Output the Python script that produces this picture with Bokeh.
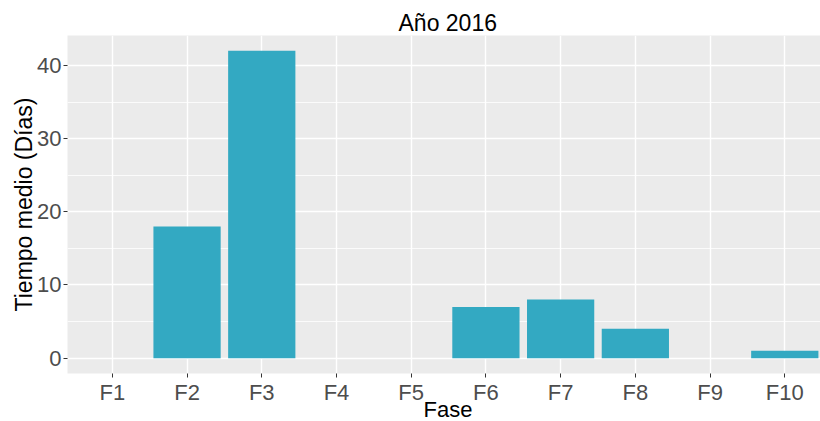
from bokeh.plotting import figure
from bokeh.models import Range1d, FixedTicker, ColumnDataSource, Title
from bokeh.embed import file_html
from bokeh.resources import INLINE

# Data
fases = ["F1", "F2", "F3", "F4", "F5", "F6", "F7", "F8", "F9", "F10"]
tiempo_medio = [0, 18, 42, 0, 0, 7, 8, 4, 0, 1]
y_ticks = [0, 10, 20, 30, 40]
y_minor = [5, 15, 25, 35]

x_pos = list(range(1, len(fases) + 1))
source = ColumnDataSource(data=dict(x=x_pos, fase=fases, tiempo=tiempo_medio))

FONT = "Liberation Sans"

p = figure(width=820, height=421, output_backend="svg", toolbar_location=None,
           x_range=Range1d(0.4, 10.478), y_range=Range1d(-2.1, 44.1),
           min_border_left=67, min_border_right=0, min_border_top=35,
           min_border_bottom=48)

p.background_fill_color = "#EBEBEB"
p.border_fill_color = "white"
p.outline_line_color = None

p.vbar(x="x", top="tiempo", bottom=0, width=0.9, source=source,
       fill_color="#33A9C2", line_color=None)

# Title
p.title.text = "Año 2016"
p.title.align = "left"
p.title.offset = 331
p.title.standoff = 0
p.title.text_font = FONT
p.title.text_font_size = "23px"
p.title.text_font_style = "normal"
p.title.text_color = "black"

# X axis
xa = p.xaxis[0]
xa.ticker = FixedTicker(ticks=x_pos)
xa.major_label_overrides = {i: f for i, f in zip(x_pos, fases)}
xa.major_label_text_font = FONT
xa.major_label_text_font_size = "22px"
xa.major_label_text_color = "#4D4D4D"
xa.major_label_standoff = 2
xa.major_tick_out = 4
xa.major_tick_in = 0
xa.major_tick_line_color = "#333333"
xa.minor_tick_line_color = None
xa.axis_line_color = None

# X axis title, centred on the whole panel like ggplot
p.add_layout(Title(text="Fase", align="left", vertical_align="top", offset=356,
                   text_font=FONT, text_font_size="22px",
                   text_font_style="normal", text_color="black",
                   standoff=-22), "below")

# Y axis
ya = p.yaxis[0]
ya.ticker = FixedTicker(ticks=y_ticks, minor_ticks=y_minor)
ya.axis_label = "Tiempo medio (Días)"
ya.axis_label_text_font = FONT
ya.axis_label_text_font_size = "23px"
ya.axis_label_text_font_style = "normal"
ya.axis_label_text_color = "black"
ya.axis_label_standoff = -3
ya.major_label_text_font = FONT
ya.major_label_text_font_size = "22px"
ya.major_label_text_color = "#4D4D4D"
ya.major_label_standoff = 2
ya.major_tick_out = 4
ya.major_tick_in = 0
ya.major_tick_line_color = "#333333"
ya.minor_tick_line_color = None
ya.axis_line_color = None

# Grid
p.xgrid.ticker = FixedTicker(ticks=x_pos)
p.xgrid.grid_line_color = "white"
p.xgrid.grid_line_width = 1.4
p.ygrid.ticker = FixedTicker(ticks=y_ticks, minor_ticks=y_minor)
p.ygrid.grid_line_color = "white"
p.ygrid.grid_line_width = 1.4
p.ygrid.minor_grid_line_color = "white"
p.ygrid.minor_grid_line_width = 0.8

open("out.html", "w").write(file_html(p, INLINE))
